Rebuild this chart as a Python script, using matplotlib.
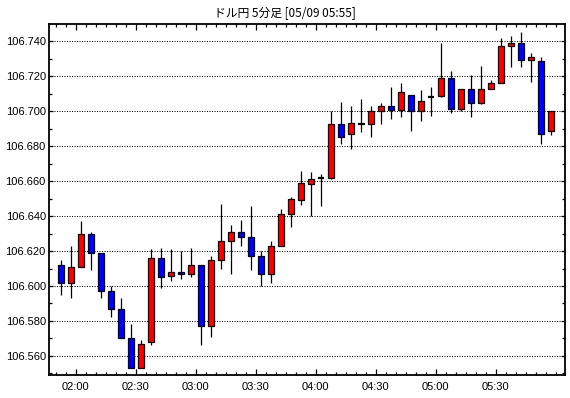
import matplotlib
matplotlib.use("Agg")
import matplotlib.pyplot as plt
from matplotlib.ticker import MultipleLocator, FixedLocator, FuncFormatter

# ---- data (5-minute candles, USD/JPY) ----
times = ["01:50", "01:55", "02:00", "02:05", "02:10", "02:15", "02:20", "02:25", "02:30", "02:35",
         "02:40", "02:45", "02:50", "02:55", "03:00", "03:05", "03:10", "03:15", "03:20", "03:25",
         "03:30", "03:35", "03:40", "03:45", "03:50", "03:55", "04:00", "04:05", "04:10", "04:15",
         "04:20", "04:25", "04:30", "04:35", "04:40", "04:45", "04:50", "04:55", "05:00", "05:05",
         "05:10", "05:15", "05:20", "05:25", "05:30", "05:35", "05:40", "05:45", "05:50", "05:55"]
opens = [106.612, 106.602, 106.611, 106.630, 106.619, 106.597, 106.587, 106.570, 106.553, 106.568,
         106.616, 106.606, 106.608, 106.607, 106.612, 106.577, 106.615, 106.626, 106.631, 106.628,
         106.617, 106.607, 106.623, 106.641, 106.649, 106.6585, 106.6615, 106.662, 106.6925, 106.687,
         106.6935, 106.6925, 106.700, 106.703, 106.7005, 106.7095, 106.700, 106.708, 106.7085, 106.719,
         106.7015, 106.7125, 106.7045, 106.7125, 106.716, 106.7375, 106.739, 106.7295, 106.7285, 106.6885]
highs = [106.615, 106.623, 106.637, 106.631, 106.619, 106.600, 106.593, 106.5785, 106.569, 106.621,
         106.622, 106.621, 106.620, 106.622, 106.612, 106.617, 106.647, 106.635, 106.638, 106.646,
         106.620, 106.626, 106.644, 106.651, 106.666, 106.665, 106.664, 106.700, 106.705, 106.703,
         106.707, 106.703, 106.7045, 106.714, 106.716, 106.7095, 106.712, 106.714, 106.739, 106.723,
         106.7125, 106.7205, 106.726, 106.718, 106.742, 106.743, 106.7455, 106.733, 106.731, 106.700]
lows = [106.595, 106.593, 106.611, 106.609, 106.593, 106.582, 106.570, 106.553, 106.553, 106.566,
        106.599, 106.603, 106.604, 106.605, 106.566, 106.571, 106.610, 106.607, 106.623, 106.609,
        106.600, 106.602, 106.623, 106.6335, 106.6465, 106.640, 106.6455, 106.661, 106.6815, 106.6785,
        106.688, 106.6855, 106.6925, 106.6955, 106.6965, 106.6885, 106.6945, 106.6975, 106.708, 106.699,
        106.700, 106.6965, 106.704, 106.7125, 106.716, 106.7255, 106.7255, 106.7165, 106.681, 106.6865]
closes = [106.602, 106.611, 106.630, 106.619, 106.597, 106.587, 106.570, 106.553, 106.567, 106.616,
          106.605, 106.608, 106.607, 106.612, 106.577, 106.615, 106.626, 106.631, 106.628, 106.617,
          106.607, 106.623, 106.641, 106.650, 106.659, 106.661, 106.6615, 106.6925, 106.6855, 106.6935,
          106.6925, 106.700, 106.703, 106.7005, 106.711, 106.700, 106.706, 106.708, 106.719, 106.7015,
          106.7125, 106.7045, 106.7125, 106.716, 106.7375, 106.739, 106.7295, 106.731, 106.687, 106.700]
tick_labels = ["02:00", "02:30", "03:00", "03:30", "04:00", "04:30", "05:00", "05:30"]
title = "ドル円 5分足 [05/09 05:55]"


def to_min(s):
    h, m = s.split(":")
    return int(h) * 60 + int(m)


W, H = 570, 398
fig = plt.figure(figsize=(W / 100, H / 100), dpi=100)
fig.patch.set_facecolor("white")
ax = fig.add_axes([49.3 / W, 1 - 375 / H, (565 - 49.3) / W, (375 - 24.3) / H])

xs = [to_min(t) + 2.5 for t in times]
for x, o, h, l, c in zip(xs, opens, highs, lows, closes):
    ax.vlines(x, l, h, color="black", lw=0.9, zorder=2)
    if abs(c - o) < 1e-9:
        ax.hlines(o, x - 1.5, x + 1.5, color="black", lw=1.6, zorder=3)
    else:
        col = "#ff0000" if c > o else "#0000ff"
        ax.bar(x, abs(c - o), bottom=min(o, c), width=3.0, color=col,
               edgecolor="black", linewidth=0.9, zorder=3)

ax.set_xlim(106.8, 364.65)
ax.set_ylim(106.5491, 106.7497)

major_x = [to_min(t) for t in tick_labels]
ax.xaxis.set_major_locator(FixedLocator(major_x))
ax.xaxis.set_major_formatter(FuncFormatter(lambda v, p: "%02d:%02d" % (int(v) // 60, int(v) % 60)))
ax.xaxis.set_minor_locator(MultipleLocator(5))

ax.yaxis.set_major_locator(MultipleLocator(0.02))
ax.yaxis.set_minor_locator(MultipleLocator(0.01))
ax.yaxis.set_major_formatter(FuncFormatter(lambda v, p: "%.3f" % v))

ax.grid(axis="y", which="major", color="black", linestyle=(0, (1, 1.4)), lw=0.75, zorder=1)
ax.set_axisbelow(True)

ax.tick_params(which="both", direction="in", top=True, right=True, bottom=True, left=True,
               width=0.9, color="black")
ax.tick_params(axis="x", which="major", length=4.0, pad=5)
ax.tick_params(axis="x", which="minor", length=2.2)
ax.tick_params(axis="y", which="major", length=3.0, pad=2.5)
ax.tick_params(axis="y", which="minor", length=2.4)
for lab in ax.get_xticklabels() + ax.get_yticklabels():
    lab.set_fontfamily("Liberation Sans")
    lab.set_fontsize(8)

for sp in ax.spines.values():
    sp.set_linewidth(1.3)
    sp.set_color("black")

fig.text(0.5, 1 - 13 / H, title, ha="center", va="center", fontsize=8.5,
         family=["Noto Sans CJK JP", "DejaVu Sans"])

fig.savefig("out.png", dpi=100)
